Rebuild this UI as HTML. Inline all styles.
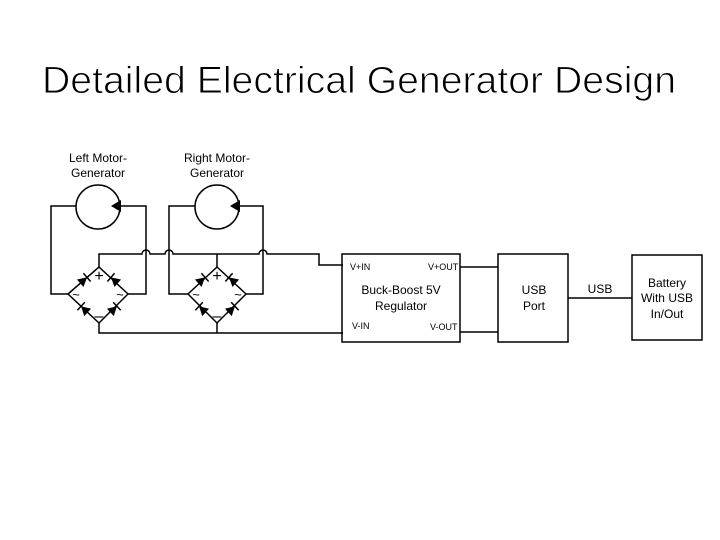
<!DOCTYPE html>
<html><head><style>
html,body{margin:0;padding:0;background:#fff;}
svg{display:block;}
text{font-family:"Liberation Sans",sans-serif;fill:#000;}
</style></head><body>
<svg width="720" height="540" viewBox="0 0 720 540" xmlns="http://www.w3.org/2000/svg">
<defs>
<g id="d"><polygon points="-5,-5 -5,5 4,0" fill="#000"/><line x1="4" y1="-5.5" x2="4" y2="5.5" stroke="#000" stroke-width="1.5"/></g>
</defs>
<text x="42" y="93" font-size="38" textLength="634" lengthAdjust="spacingAndGlyphs" stroke="#fff" stroke-width="0.9" paint-order="normal">Detailed Electrical Generator Design</text>
<g fill="none" stroke="#000" stroke-width="1.5">
<circle cx="98" cy="207" r="22"/>
<polyline points="76,206 51,206 51,294 68,294"/>
<polyline points="120,206 146,206 146,294 128,294"/>
<polygon points="68,294 99,267 128,294 99,323"/>
<circle cx="217" cy="207" r="22"/>
<polyline points="195,206 169,206 169,294 188,294"/>
<polyline points="239,206 263,206 263,294 246,294"/>
<polygon points="188,294 217,267 246,294 217,323"/>
<path d="M99,267 V254 H142 A4,4 0 0 1 150,254 H165 A4,4 0 0 1 173,254 H259 A4,4 0 0 1 267,254 H319 V265 H343"/>
<line x1="217" y1="254" x2="217" y2="267"/>
<path d="M99,323 V333 H343"/>
<line x1="217" y1="323" x2="217" y2="333"/>
<rect x="342" y="254" width="118" height="88"/>
<rect x="498" y="254" width="70" height="88"/>
<rect x="632" y="255" width="70" height="85"/>
<line x1="460" y1="267" x2="498" y2="267"/>
<line x1="460" y1="332" x2="498" y2="332"/>
<line x1="568" y1="298" x2="632" y2="298"/>
</g>
<polygon points="111,206 121,200 121,212" fill="#000"/>
<polygon points="230,206 240,200 240,212" fill="#000"/>
<use href="#d" transform="translate(84,280) rotate(-41)"/>
<use href="#d" transform="translate(114,280) rotate(-139)"/>
<use href="#d" transform="translate(84,309) rotate(-137)"/>
<use href="#d" transform="translate(114,309) rotate(-43)"/>
<use href="#d" transform="translate(202,280) rotate(-41)"/>
<use href="#d" transform="translate(232,280) rotate(-139)"/>
<use href="#d" transform="translate(202,309) rotate(-137)"/>
<use href="#d" transform="translate(232,309) rotate(-43)"/>
<g font-size="16">
<text x="99" y="281" text-anchor="middle">+</text>
<text x="99" y="321" text-anchor="middle">–</text>
<text x="217" y="281" text-anchor="middle">+</text>
<text x="217" y="321" text-anchor="middle">–</text>
</g>
<g font-size="13" text-anchor="middle">
<text x="76" y="299">~</text>
<text x="120" y="299">~</text>
<text x="196" y="299">~</text>
<text x="238" y="299">~</text>
</g>
<g font-size="12" text-anchor="middle">
<text x="98" y="162">Left Motor-</text>
<text x="98" y="177">Generator</text>
<text x="217" y="162">Right Motor-</text>
<text x="217" y="177">Generator</text>
<text x="401" y="294">Buck-Boost 5V</text>
<text x="401" y="310">Regulator</text>
<text x="534" y="294">USB</text>
<text x="534" y="310">Port</text>
<text x="600" y="293">USB</text>
<text x="667" y="287">Battery</text>
<text x="667" y="302">With USB</text>
<text x="667" y="318">In/Out</text>
</g>
<g font-size="9">
<text x="350" y="270">V+IN</text>
<text x="428" y="270">V+OUT</text>
<text x="352" y="329">V-IN</text>
<text x="430" y="330">V-OUT</text>
</g>
</svg>
</body></html>
